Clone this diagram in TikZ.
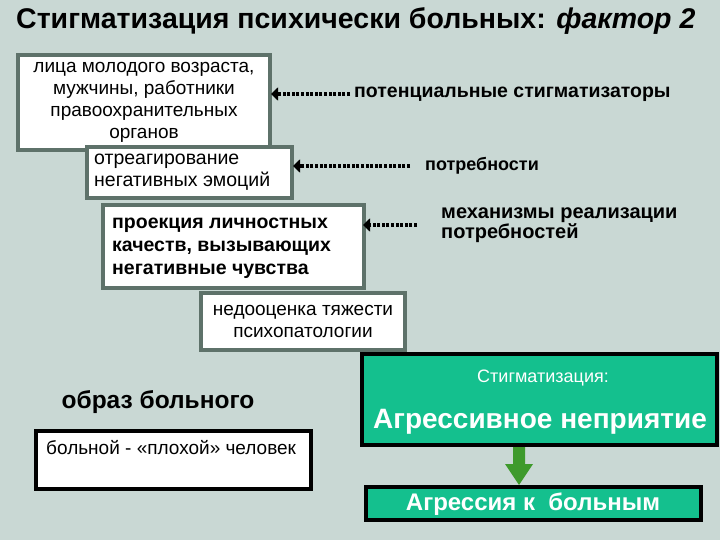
\documentclass[tikz,border=0pt]{standalone}
\usepackage{fontspec}
\setmainfont{Liberation Sans}
\usetikzlibrary{arrows.meta}
\definecolor{bg}{HTML}{C9D8D4}
\definecolor{bord}{HTML}{5E726A}
\definecolor{grn}{HTML}{14C08E}
\definecolor{darr}{HTML}{3E9A2C}
\begin{document}
\begin{tikzpicture}[x=1pt,y=-1pt,
  wbox/.style={draw=bord,line width=3.5pt,fill=white,inner sep=0pt},
  txt/.style={font=\fontsize{19}{22}\selectfont,align=center,inner sep=0pt},
  bt/.style={align=left,inner sep=0pt,anchor=west},
  darrow/.style={line width=4.5pt,dash pattern=on 3pt off 1.6pt,-{Triangle[length=7pt,width=13pt]}}]
\fill[bg] (0,0) rectangle (720,540);
\useasboundingbox (0,0) rectangle (720,540);
\node[anchor=west,inner sep=0pt,font=\bfseries\fontsize{28.5}{30}\selectfont] (title) at (16,21) {Стигматизация психически больных: \textit{фактор 2}};
% boxes
\draw[wbox] (18,55) rectangle (270,150);
\node[txt] (b1) at (144,102) {лица молодого возраста,\\мужчины, работники\\правоохранительных\\органов};
\draw[wbox] (87,147) rectangle (292,198);
\node[txt,font=\fontsize{19.5}{22}\selectfont,align=left,anchor=west] (b2) at (94,172) {отреагирование\\негативных эмоций};
\draw[wbox] (103,205) rectangle (364,288);
\node[bt,font=\bfseries\fontsize{19.5}{23}\selectfont] (b3) at (112,248) {проекция личностных\\качеств, вызывающих\\негативные чувства};
\draw[wbox] (201,293) rectangle (405,350);
\node[txt,font=\fontsize{19}{22}\selectfont] (b4) at (303,321) {недооценка тяжести\\психопатологии};
% labels
\node[bt,font=\bfseries\fontsize{19.5}{22}\selectfont] (l1) at (354,94) {потенциальные стигматизаторы};
\node[bt,font=\bfseries\fontsize{18}{20}\selectfont] (l2) at (425,166) {потребности};
\node[bt,font=\bfseries\fontsize{20}{16}\selectfont] (l3) at (441,225) {механизмы реализации\\потребностей};
\coordinate (a1s) at (350,94); \coordinate (a1e) at (271,94);
\coordinate (a2s) at (410,166); \coordinate (a2e) at (293,166);
\coordinate (a3s) at (417,225); \coordinate (a3e) at (363,225);
\draw[darrow] (a1s) -- (a1e);
\draw[darrow] (a2s) -- (a2e);
\draw[darrow] (a3s) -- (a3e);
% bottom left
\node[anchor=center,inner sep=0pt,font=\bfseries\fontsize{24.5}{28}\selectfont] (obraz) at (158,402) {образ больного};
\draw[line width=4pt,fill=white] (36,431) rectangle (311,489);
\node[anchor=west,inner sep=0pt,font=\fontsize{19}{22}\selectfont] (plo) at (46,448) {больной - «плохой» человек};
% green
\draw[line width=4pt,fill=grn] (362,354) rectangle (717,445);
\node[inner sep=0pt,text=white,font=\fontsize{18}{20}\selectfont] (st) at (543,378) {Стигматизация:};
\node[inner sep=0pt,text=white,font=\bfseries\fontsize{28}{30}\selectfont] (ag) at (540,422) {Агрессивное неприятие};
\draw[line width=4pt,fill=grn] (366,487) rectangle (701,520);
\node[inner sep=0pt,text=white,font=\bfseries\fontsize{24}{26}\selectfont] (ak) at (533,504) {Агрессия к\ \ больным};
\fill[darr] (513,447) -- (525,447) -- (525,464) -- (533,464) -- (519,485) -- (505,464) -- (513,464) -- cycle;
\end{tikzpicture}
\end{document}
